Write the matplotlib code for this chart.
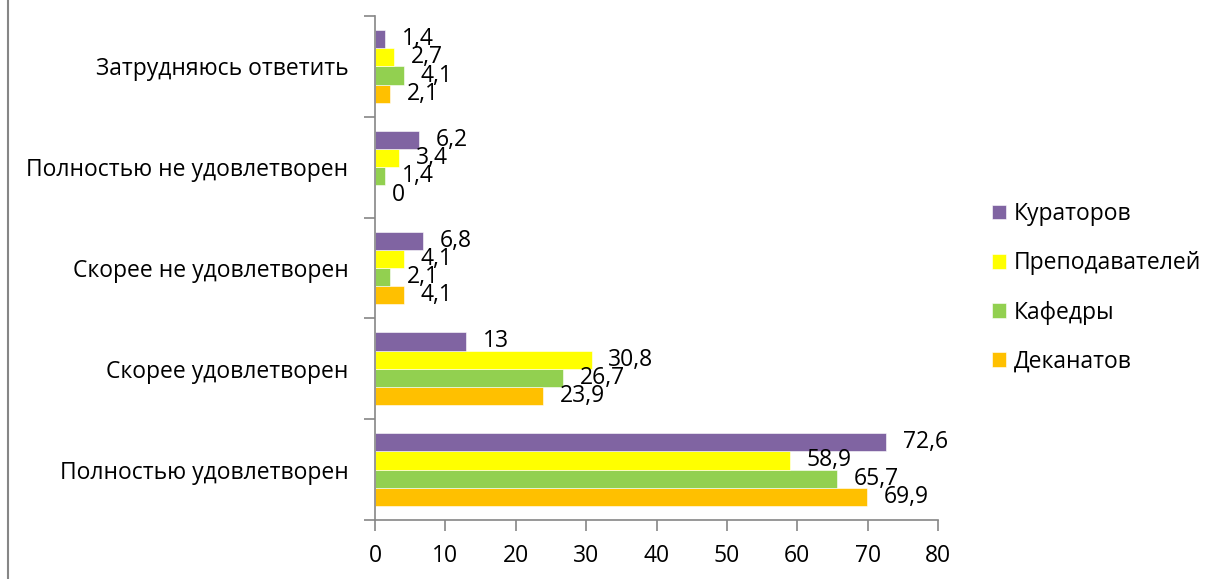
import matplotlib.pyplot as plt
from matplotlib.lines import Line2D
import numpy as np

plt.rcParams['font.family'] = ['Open Sans', 'DejaVu Sans']

# Categories from the bottom of the chart upward
categories = ["Полностью удовлетворен", "Скорее удовлетворен", "Скорее не удовлетворен",
              "Полностью не удовлетворен", "Затрудняюсь ответить"]

dekanatov = [69.9, 23.9, 4.1, 0, 2.1]
kafedry = [65.7, 26.7, 2.1, 1.4, 4.1]
prepodavateley = [58.9, 30.8, 4.1, 3.4, 2.7]
kuratorov = [72.6, 13, 6.8, 6.2, 1.4]

series = [("Деканатов", dekanatov, "#FFC000"),
          ("Кафедры", kafedry, "#92D050"),
          ("Преподавателей", prepodavateley, "#FFFF00"),
          ("Кураторов", kuratorov, "#8064A2")]

fs = 16.5
grey = "#868686"

fig = plt.figure(figsize=(12.05, 5.79), dpi=100)
ax = fig.add_axes([375 / 1205, 1 - 520 / 579, (938 - 375) / 1205, (520 - 16) / 579])

y = np.arange(len(categories))
h = 0.181
containers = []
for i, (name, vals, col) in enumerate(series):
    bars = ax.barh(y + (i - 1.5) * h, vals, height=h, color=col, label=name,
                   edgecolor="white", linewidth=0.4)
    containers.append(bars)
    lbls = [f"{v:g}".replace(".", ",") for v in vals]
    ax.bar_label(bars, labels=lbls, padding=12, fontsize=fs)

ax.set_xlim(0, 80)
ax.set_ylim(-0.5, len(categories) - 0.5)
ax.set_xticks(range(0, 81, 10))

# group separators as major ticks, names on minor ticks
ax.set_yticks(np.arange(-0.5, len(categories), 1.0))
ax.set_yticklabels([])
ax.set_yticks(y, minor=True)
ax.set_yticklabels(categories, minor=True)
ax.tick_params(axis="y", which="major", length=8, width=1.2, color=grey, direction="out")
ax.tick_params(axis="y", which="minor", length=0, pad=19, labelsize=fs)
ax.tick_params(axis="x", length=8, width=1.2, color=grey, direction="out", pad=9, labelsize=fs)

for s in ("top", "right"):
    ax.spines[s].set_visible(False)
for s in ("left", "bottom"):
    ax.spines[s].set_color(grey)
    ax.spines[s].set_linewidth(1.2)

handles = containers[::-1]
fig.legend(handles, [s[0] for s in series[::-1]], loc="center left",
           bbox_to_anchor=(992 / 1205, 1 - 288 / 579), frameon=False, fontsize=fs,
           handlelength=0.6, handleheight=0.6, handletextpad=0.35,
           labelspacing=1.1, borderpad=0, borderaxespad=0)

fig.add_artist(Line2D([8 / 1205, 8 / 1205], [0, 1], transform=fig.transFigure,
                      color=grey, linewidth=1.5))

fig.savefig("out.png", dpi=100)
